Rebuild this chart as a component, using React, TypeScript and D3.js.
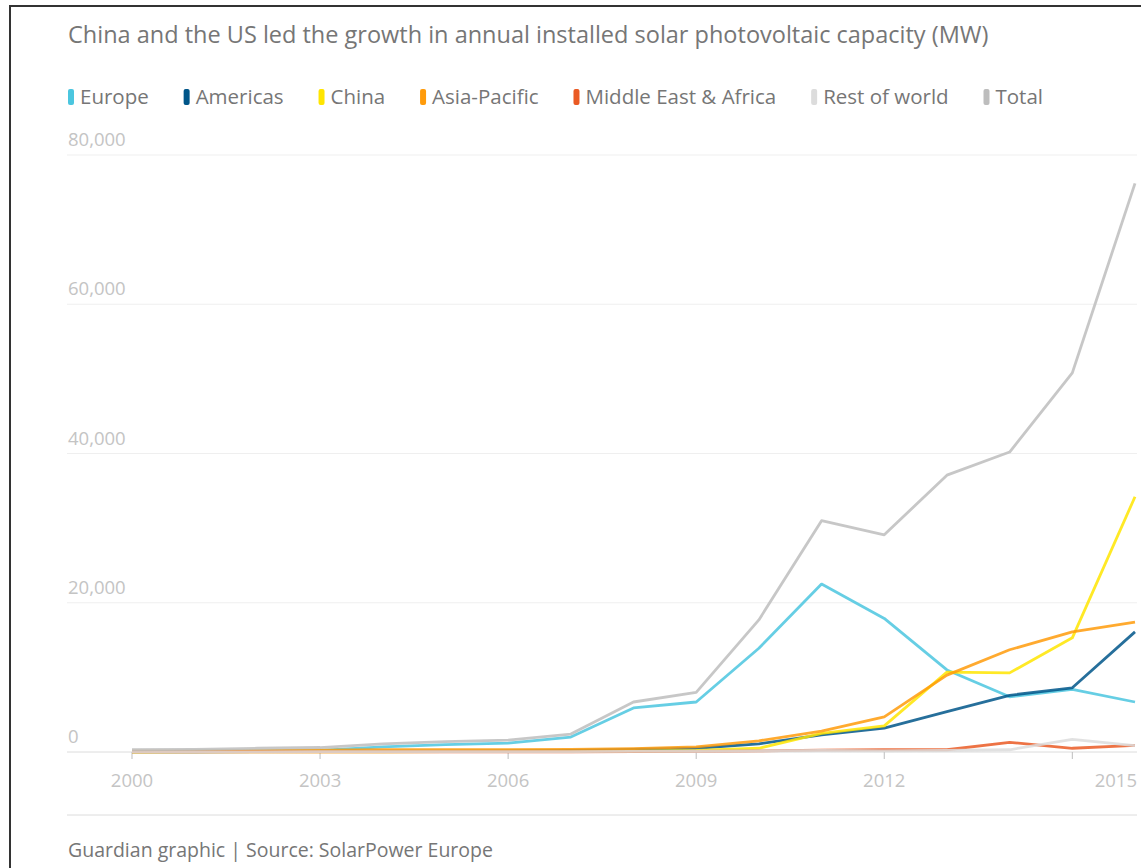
import React, { useEffect, useRef } from "react";
import * as d3 from "d3";

const years = [
  2000, 2001, 2002, 2003, 2004, 2005, 2006, 2007, 2008, 2009, 2010, 2011, 2012,
  2013, 2014, 2015, 2016,
];

// annual installed capacity, MW
const europe = [
  50, 100, 150, 200, 700, 1000, 1200, 2000, 5900, 6700, 13900, 22500, 17900,
  11000, 7400, 8400, 6700,
];
const americas = [
  20, 30, 50, 70, 100, 120, 150, 200, 350, 500, 1100, 2300, 3200, 5400, 7600,
  8600, 16100,
];
const china = [
  0, 10, 20, 20, 30, 50, 50, 50, 100, 200, 500, 2500, 3500, 10700, 10600, 15300,
  34200,
];
const asiaPacific = [
  100, 120, 180, 250, 300, 300, 300, 350, 450, 700, 1500, 2800, 4700, 10300,
  13700, 16100, 17400,
];
const middleEastAfrica = [
  10, 10, 10, 10, 20, 20, 30, 30, 50, 80, 150, 250, 300, 300, 1300, 500, 900,
];
const restOfWorld = [
  20, 20, 30, 40, 40, 50, 50, 60, 80, 100, 150, 200, 150, 200, 300, 1700, 850,
];
const total = [
  300, 350, 500, 600, 1100, 1400, 1600, 2400, 6700, 8000, 17700, 31000, 29100,
  37100, 40200, 50800, 76200,
];

const seriesNames = [
  "Europe",
  "Americas",
  "China",
  "Asia-Pacific",
  "Middle East & Africa",
  "Rest of world",
  "Total",
];
const seriesValues = [
  europe,
  americas,
  china,
  asiaPacific,
  middleEastAfrica,
  restOfWorld,
  total,
];
const seriesColors = [
  "#4bc6df",
  "#005689",
  "#ffe500",
  "#ff9b0b",
  "#ea5a24",
  "#dcdcdc",
  "#bdbdbd",
];

const yTicks = [0, 20000, 40000, 60000, 80000];
const xTicks = [2000, 2003, 2006, 2009, 2012, 2015];

const title =
  "China and the US led the growth in annual installed solar photovoltaic capacity (MW)";
const footer = "Guardian graphic | Source: SolarPower Europe";

const W = 1141;
const H = 868;
const FONT = "'Open Sans', 'DejaVu Sans', sans-serif";

const SolarChart = () => {
  const ref = useRef<SVGSVGElement>(null);

  useEffect(() => {
    draw();
  }, []);

  const draw = () => {
    const svg = d3.select(ref.current);
    svg.selectAll("*").remove();

    const left = 68;
    const right = 1137;
    const x = d3.scaleLinear().domain([2000, 2016]).range([132, 1135]);
    const y = d3.scaleLinear().domain([0, 80000]).range([752, 155]);

    // frame
    svg
      .append("path")
      .attr("d", `M10,${H} L10,6 L${W},6`)
      .attr("fill", "none")
      .attr("stroke", "#333")
      .attr("stroke-width", 2);

    svg
      .append("text")
      .attr("x", left)
      .attr("y", 43)
      .attr("font-family", FONT)
      .attr("font-size", 23.5)
      .attr("fill", "#767676")
      .text(title);

    // legend
    const legend = svg.append("g");
    const items = seriesNames.map((name, i) => {
      const g = legend.append("g");
      g.append("rect")
        .attr("width", 6)
        .attr("height", 16)
        .attr("rx", 2)
        .attr("y", -15)
        .attr("fill", seriesColors[i]);
      const t = g
        .append("text")
        .attr("x", 12)
        .attr("font-family", FONT)
        .attr("font-size", 20.5)
        .attr("fill", "#767676")
        .text(name);
      const w = (t.node() as SVGTextElement).getComputedTextLength();
      return { g, w: 12 + w };
    });
    const used = d3.sum(items, (d) => d.w);
    const gap = (1043 - left - used) / (items.length - 1);
    let cx = left;
    items.forEach((it) => {
      it.g.attr("transform", `translate(${cx},104)`);
      cx += it.w + gap;
    });

    // gridlines and y labels
    const grid = svg.append("g");
    yTicks.forEach((t) => {
      grid
        .append("line")
        .attr("x1", left - 1)
        .attr("x2", right)
        .attr("y1", y(t))
        .attr("y2", y(t))
        .attr("stroke", t === 0 ? "#dcdcdc" : "#efefef")
        .attr("stroke-width", 1);
      grid
        .append("text")
        .attr("x", left)
        .attr("y", y(t) - 9)
        .attr("font-family", FONT)
        .attr("font-size", 18.5)
        .attr("fill", "#c4c4c4")
        .text(d3.format(",")(t));
    });

    // x ticks
    xTicks.forEach((t, i) => {
      grid
        .append("line")
        .attr("x1", x(t))
        .attr("x2", x(t))
        .attr("y1", y(0))
        .attr("y2", y(0) + 7)
        .attr("stroke", "#bdbdbd");
      const last = i === xTicks.length - 1;
      grid
        .append("text")
        .attr("x", last ? right : x(t))
        .attr("y", 787)
        .attr("text-anchor", last ? "end" : "middle")
        .attr("font-family", FONT)
        .attr("font-size", 18.5)
        .attr("fill", "#c4c4c4")
        .text(t);
    });

    // lines
    const line = d3
      .line<number>()
      .x((d, i) => x(years[i]))
      .y((d) => y(d));
    svg
      .append("g")
      .selectAll("path")
      .data(seriesValues)
      .enter()
      .append("path")
      .attr("d", (d) => line(d))
      .attr("fill", "none")
      .attr("stroke", (d, i) => seriesColors[i])
      .attr("stroke-width", 2.8)
      .attr("stroke-opacity", 0.85)
      .attr("stroke-linejoin", "round");

    // footer
    svg
      .append("line")
      .attr("x1", left - 1)
      .attr("x2", right)
      .attr("y1", 815)
      .attr("y2", 815)
      .attr("stroke", "#dcdcdc");
    svg
      .append("text")
      .attr("x", left)
      .attr("y", 857)
      .attr("font-family", FONT)
      .attr("font-size", 19.5)
      .attr("fill", "#767676")
      .text(footer);
  };

  return (
    <svg
      ref={ref}
      width={W}
      height={H}
      style={{ position: "absolute", left: 0, top: 0, background: "#fff" }}
    />
  );
};

export default function App() {
  return <SolarChart />;
}
